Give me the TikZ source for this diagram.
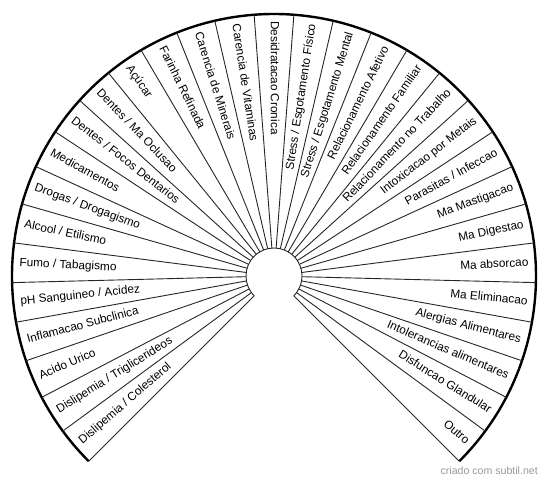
\documentclass[tikz,border=0pt]{standalone}
\usepackage{fontspec}
\setmainfont{Liberation Sans}
\begin{document}
\begin{tikzpicture}[x=1pt,y=1pt,
  rim/.style={line width=2.4pt,black},
  hub/.style={line width=0.9pt,black!85},
  spoke/.style={line width=0.9pt,black!85},
  lab/.style={inner sep=0pt,text height=0.62em,text depth=0pt,font=\fontsize{11.8}{14}\selectfont},
  wmark/.style={inner sep=0pt,anchor=base east,text=black!40,font=\fontsize{10.6}{12}\selectfont}]
\useasboundingbox (0,0) rectangle (550,482);
\coordinate (c) at (274,206);
\def\R{262}
\def\r{28}
\draw[rim] ([shift={(225:\R)}]c) arc[start angle=225,end angle=-45,radius=\R];
\draw[hub] ([shift={(225:\r)}]c) arc[start angle=225,end angle=-45,radius=\r];
\foreach \k in {0,...,31}{
  \pgfmathsetmacro\a{225-\k*270/31}
  \draw[spoke] ([shift={(\a:\r)}]c) -- ([shift={(\a:\R)}]c);
}
\foreach \t [count=\i] in {Dislipemia / Colesterol,Dislipemia / Triglicerideos,Acido Urico,Inflamacao Subclinica,pH Sanguineo / Acidez,Fumo / Tabagismo,Alcool / Etilismo,Drogas / Drogagismo,Medicamentos,Dentes / Focos Dentarios,Dentes / Ma Oclusao,Açúcar,Farinha Refinada,Carencia de Minerais,Carencia de Vitaminas,Desidratacao Cronica,Stress / Esgotamento Físico,Stress / Esgotamento Mental,Relacionamento Afetivo,Relacionamento Familiar,Relacionamento no Trabalho,Intoxicacao por Metais,Parasitas / Infeccao,Ma Mastigacao,Ma Digestao,Ma absorcao,Ma Eliminacao,Alergias Alimentares,Intolerancias alimentares,Disfuncao Glandular,Outro}{
  \pgfmathsetmacro\a{225-(\i-0.5)*270/31}
  \pgfmathsetmacro\b{\a+180}
  \ifdim\a pt>89pt
    \node[lab,anchor=west,rotate=\b] (l\i) at ([shift={(\a:\R-7)}]c) {\t};
  \else
    \node[lab,anchor=east,rotate=\a] (l\i) at ([shift={(\a:\R-7)}]c) {\t};
  \fi
}
\node[wmark] (wm) at (538,7) {criado com subtil.net};
\end{tikzpicture}
\end{document}
